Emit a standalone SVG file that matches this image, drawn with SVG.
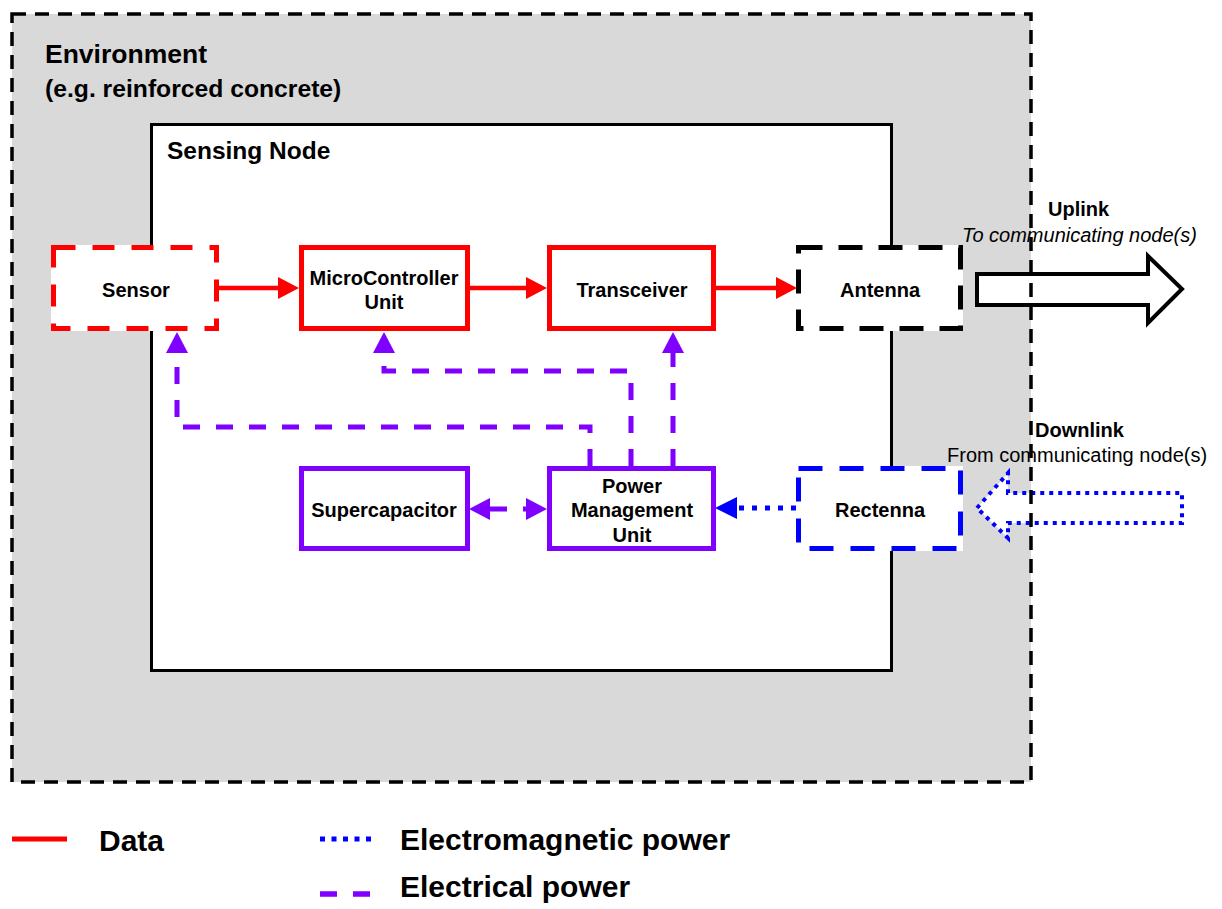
<svg xmlns="http://www.w3.org/2000/svg" width="1222" height="909" viewBox="0 0 1222 909">
<style>
  text { font-family: "Liberation Sans", Arial, Helvetica, sans-serif; fill: #000; }
  .b { font-weight: bold; }
  .lbl { font-weight: bold; font-size: 20px; text-anchor: middle; }
  .wfill { fill: #fff; stroke: none; }
  .red { fill: none; stroke: #ff0000; stroke-width: 5; }
  .redd { fill: none; stroke: #ff0000; stroke-width: 5; stroke-dasharray: 22 17; }
  .blkd { fill: none; stroke: #000; stroke-width: 5; stroke-dasharray: 24 16; }
  .pur { fill: none; stroke: #7f00ff; stroke-width: 5; }
  .blud { fill: none; stroke: #0000ff; stroke-width: 5; stroke-dasharray: 24 17; }
  .data { fill: none; stroke: #ff0000; stroke-width: 4.5; }
  .elec { fill: none; stroke: #7f00ff; stroke-width: 5; stroke-dasharray: 17 16; }
  .em { fill: none; stroke: #0000ff; stroke-width: 5; stroke-dasharray: 5 8; }
</style>
<defs>
  <marker id="mRed" markerUnits="userSpaceOnUse" markerWidth="21" markerHeight="22" refX="0" refY="11" orient="auto" overflow="visible">
    <path d="M0,0 L21,11 L0,22 Z" fill="#ff0000"/>
  </marker>
  <marker id="mPur" markerUnits="userSpaceOnUse" markerWidth="21" markerHeight="22" refX="0" refY="11" orient="auto-start-reverse" overflow="visible">
    <path d="M0,0 L21,11 L0,22 Z" fill="#7f00ff"/>
  </marker>
  <marker id="mBlu" markerUnits="userSpaceOnUse" markerWidth="22" markerHeight="22" refX="0" refY="11" orient="auto" overflow="visible">
    <path d="M0,0 L22,11 L0,22 Z" fill="#0000ff"/>
  </marker>
</defs>

<g id="environment">
  <rect x="12" y="14" width="1019" height="768" fill="#d9d9d9"/>
  <text class="b" x="45" y="63" font-size="26.5">Environment</text>
  <text class="b" x="45" y="97" font-size="24.7">(e.g. reinforced concrete)</text>
</g>

<g id="sensing-node">
  <rect x="151.5" y="124.5" width="740" height="546" fill="#fff" stroke="#000" stroke-width="3"/>
  <text class="b" x="167" y="159" font-size="24.5">Sensing Node</text>
</g>

<g id="connectors">
  <line class="data" x1="219" y1="288" x2="278" y2="288" marker-end="url(#mRed)"/>
  <line class="data" x1="470" y1="288" x2="526" y2="288" marker-end="url(#mRed)"/>
  <line class="data" x1="716" y1="288" x2="776" y2="288" marker-end="url(#mRed)"/>
  <path class="elec" d="M590,466 V427 H177 V353" marker-end="url(#mPur)"/>
  <path class="elec" d="M631,466 V371 H384 V353" marker-end="url(#mPur)"/>
  <path class="elec" d="M673,466 V353" marker-end="url(#mPur)"/>
  <line class="elec" x1="490" y1="509" x2="526" y2="509" stroke-dasharray="14 17" marker-start="url(#mPur)" marker-end="url(#mPur)"/>
  <line class="em" x1="796" y1="508" x2="737" y2="508" marker-end="url(#mBlu)"/>
</g>

<g id="sensor">
  <rect class="wfill" x="51" y="245" width="168" height="86"/>
  <rect class="redd" x="53.5" y="247.5" width="163" height="81"/>
  <text class="lbl" x="136" y="297">Sensor</text>
</g>
<g id="mcu">
  <rect x="301.5" y="247.5" width="166" height="81" fill="#fff" stroke="#ff0000" stroke-width="5"/>
  <text class="lbl" x="384" y="285">MicroController</text>
  <text class="lbl" x="384" y="309">Unit</text>
</g>
<g id="transceiver">
  <rect x="549.5" y="247.5" width="164" height="81" fill="#fff" stroke="#ff0000" stroke-width="5"/>
  <text class="lbl" x="632" y="297">Transceiver</text>
</g>
<g id="antenna">
  <rect class="wfill" x="796" y="245" width="167" height="86"/>
  <rect class="blkd" x="798.5" y="247.5" width="162" height="81"/>
  <text class="lbl" x="880" y="297">Antenna</text>
</g>
<g id="supercapacitor">
  <rect x="301.5" y="468.5" width="166" height="80" fill="#fff" stroke="#7f00ff" stroke-width="5"/>
  <text class="lbl" x="384" y="517">Supercapacitor</text>
</g>
<g id="pmu">
  <rect x="549.5" y="468.5" width="164" height="80" fill="#fff" stroke="#7f00ff" stroke-width="5"/>
  <text class="lbl" x="632" y="493">Power</text>
  <text class="lbl" x="632" y="517">Management</text>
  <text class="lbl" x="632" y="542">Unit</text>
</g>
<g id="rectenna">
  <rect class="wfill" x="796" y="466" width="167" height="85"/>
  <rect class="blud" x="798.5" y="468.5" width="162" height="80"/>
  <text class="lbl" x="880" y="517">Rectenna</text>
</g>

<g id="uplink">
  <polygon points="977,274 1148,274 1148,256 1182,289 1148,323 1148,305 977,305" fill="#fff" stroke="#000" stroke-width="4" stroke-linejoin="miter"/>
  <text class="b" x="1048" y="216" font-size="20">Uplink</text>
  <text x="962" y="242" font-size="20" font-style="italic">To communicating node(s)</text>
</g>
<g id="downlink">
  <polygon points="977,508 1008,473 1008,493 1182,493 1182,523 1008,523 1008,538" fill="#fff" stroke="#0000ff" stroke-width="4" stroke-dasharray="4 5"/>
  <text class="b" x="1035" y="437" font-size="20">Downlink</text>
  <text x="947" y="462" font-size="20">From communicating node(s)</text>
</g>

<g id="environment-border">
  <rect x="12" y="14" width="1019" height="768" fill="none" stroke="#000" stroke-width="3.5" stroke-dasharray="14 9"/>
</g>

<g id="legend">
  <line x1="12" y1="839" x2="67" y2="839" stroke="#ff0000" stroke-width="5"/>
  <text class="b" x="99" y="851" font-size="30">Data</text>
  <line x1="320" y1="839" x2="372" y2="839" stroke="#0000ff" stroke-width="5" stroke-dasharray="5 6.5"/>
  <text class="b" x="400" y="850" font-size="30">Electromagnetic power</text>
  <line x1="320" y1="894" x2="371" y2="894" stroke="#7f00ff" stroke-width="5.5" stroke-dasharray="17 16"/>
  <text class="b" x="400" y="897" font-size="30">Electrical power</text>
</g>
</svg>
